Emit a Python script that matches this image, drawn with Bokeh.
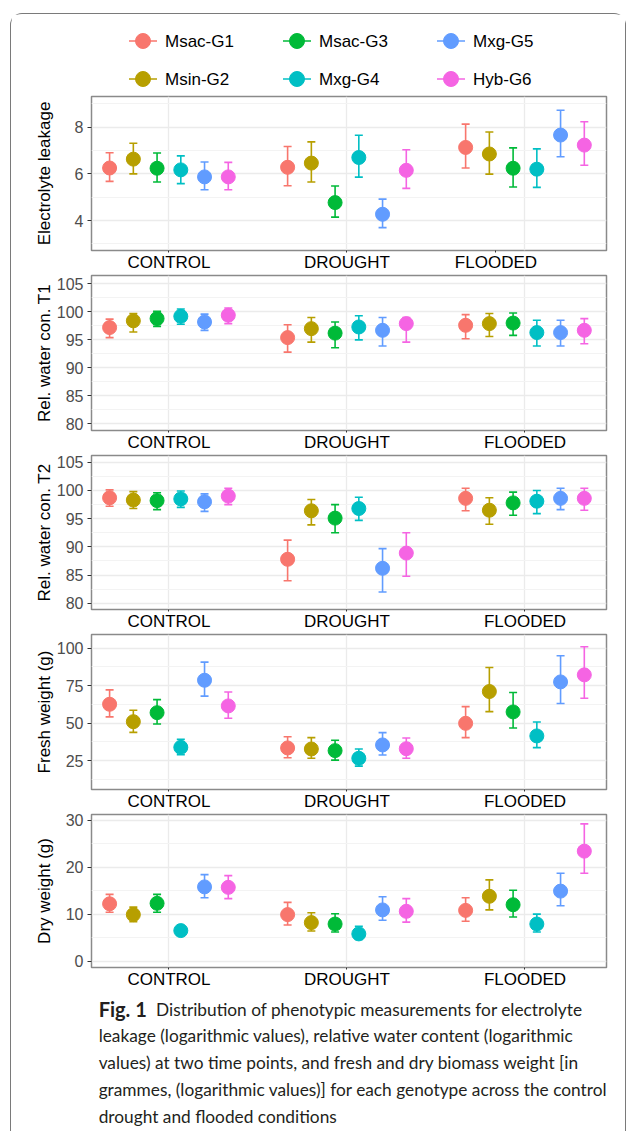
from bokeh.plotting import figure
from bokeh.models import Range1d, FixedTicker, ColumnDataSource, Column
from bokeh.embed import file_html
from bokeh.resources import INLINE
from bokeh.core.properties import value

genotypes = ["Msac-G1", "Msin-G2", "Msac-G3", "Mxg-G4", "Mxg-G5", "Hyb-G6"]
colors = ["#F8766D", "#B79F00", "#00BA38", "#00BFC4", "#619CFF", "#F564E3"]
conditions = ["CONTROL", "DROUGHT", "FLOODED"]

# values: [condition][genotype]
el_mean = [[6.25, 6.63, 6.24, 6.17, 5.87, 5.87], [6.28, 6.46, 4.77, 6.70, 4.27, 6.15], [7.13, 6.85, 6.24, 6.20, 7.66, 7.23]]
el_low = [[5.68, 6.00, 5.65, 5.58, 5.32, 5.32], [5.49, 5.65, 4.15, 5.86, 3.70, 5.38], [6.25, 5.99, 5.44, 5.42, 6.73, 6.37]]
el_high = [[6.90, 7.31, 6.89, 6.77, 6.51, 6.49], [7.17, 7.37, 5.48, 7.65, 4.92, 7.03], [8.13, 7.79, 7.11, 7.07, 8.72, 8.23]]

t1_mean = [[97.2, 98.4, 98.8, 99.2, 98.2, 99.4], [95.4, 97.0, 96.2, 97.3, 96.7, 97.9], [97.6, 97.9, 98.0, 96.3, 96.3, 96.7]]
t1_low = [[95.4, 96.4, 97.4, 97.8, 96.7, 97.9], [92.8, 94.6, 93.6, 95.0, 93.9, 94.6], [95.2, 95.6, 95.8, 93.9, 93.9, 94.3]]
t1_high = [[98.7, 99.7, 100.1, 100.5, 99.6, 100.7], [97.7, 99.0, 98.2, 99.3, 99.0, 99.0], [99.5, 99.7, 99.8, 98.5, 98.5, 98.8]]

t2_mean = [[98.7, 98.3, 98.2, 98.5, 98.0, 99.0], [87.8, 96.4, 95.1, 96.8, 86.2, 88.9], [98.6, 96.5, 97.8, 98.1, 98.6, 98.6]]
t2_low = [[97.2, 96.8, 96.6, 97.0, 96.3, 97.5], [84.0, 93.9, 92.5, 94.7, 82.0, 84.8], [96.4, 94.0, 95.6, 95.9, 96.6, 96.5]]
t2_high = [[100.1, 99.8, 99.6, 99.9, 99.4, 100.4], [91.2, 98.4, 97.5, 98.8, 89.7, 92.5], [100.4, 98.7, 99.7, 100.0, 100.4, 100.4]]

fw_mean = [[62.6, 51.0, 57.0, 33.9, 78.6, 61.5], [33.5, 32.8, 31.7, 26.6, 35.5, 33.0], [49.9, 71.1, 57.5, 41.5, 77.5, 82.2]]
fw_low = [[54.2, 43.9, 49.5, 29.0, 68.0, 53.3], [27.0, 26.6, 25.4, 21.4, 28.8, 26.6], [40.4, 57.7, 46.8, 33.7, 63.1, 66.6]]
fw_high = [[72.2, 58.6, 65.7, 39.2, 90.7, 70.8], [41.0, 40.4, 38.6, 32.8, 43.7, 40.1], [61.0, 87.1, 70.4, 50.8, 94.9, 100.9]]

dw_mean = [[12.2, 9.9, 12.3, 6.5, 15.8, 15.7], [9.9, 8.2, 7.9, 5.8, 10.9, 10.6], [10.8, 13.8, 12.0, 7.9, 14.9, 23.4]]
dw_low = [[10.4, 8.4, 10.4, 5.9, 13.5, 13.3], [7.7, 6.4, 6.2, 4.6, 8.7, 8.3], [8.5, 10.9, 9.4, 6.2, 11.8, 18.7]]
dw_high = [[14.2, 11.5, 14.2, 7.0, 18.4, 18.2], [12.5, 10.3, 10.1, 7.4, 13.7, 13.3], [13.5, 17.3, 15.1, 10.0, 18.7, 29.2]]

el_ticks = [4, 6, 8]
rwc_ticks = [80, 85, 90, 95, 100, 105]
fw_ticks = [25, 50, 75, 100]
dw_ticks = [0, 10, 20, 30]

caption_lead = "Fig. 1"
caption = [
    "Distribution of phenotypic measurements for electrolyte",
    "leakage (logarithmic values), relative water content (logarithmic",
    "values) at two time points, and fresh and dry biomass weight [in",
    "grammes, (logarithmic values)] for each genotype across the control,",
    "drought and flooded conditions",
]

FONT = "Liberation Sans"
W = 614
BL, BR = 80, 19


def panel(ylabel, mean, low, high, yr, ticks, minor, height, bottom, label_pos=(1, 2, 3)):
    p = figure(width=W, height=height, x_range=Range1d(0.565, 3.458), y_range=Range1d(*yr),
               output_backend="svg", toolbar_location=None,
               min_border_left=BL, min_border_right=BR, min_border_top=1, min_border_bottom=bottom)
    p.outline_line_color = "#8a8a8a"
    p.outline_line_width = 1.5
    xs, ys, lo, hi, cs = [], [], [], [], []
    for ci in range(len(conditions)):
        for gi in range(len(genotypes)):
            xs.append(ci + 1 + (gi - 2.5) * 0.8 / 6)
            ys.append(mean[ci][gi])
            lo.append(low[ci][gi])
            hi.append(high[ci][gi])
            cs.append(colors[gi])
    src = ColumnDataSource(dict(x=xs, y=ys, lo=lo, hi=hi, c=cs))
    p.segment(x0="x", y0="lo", x1="x", y1="hi", line_color="c", line_width=1.6, source=src)
    p.scatter(x="x", y="lo", marker="dash", size=8, line_color="c", line_width=1.6, source=src)
    p.scatter(x="x", y="hi", marker="dash", size=8, line_color="c", line_width=1.6, source=src)
    p.scatter(x="x", y="y", size=14, fill_color="c", line_color="c", source=src)

    p.xgrid.ticker = FixedTicker(ticks=[1, 2, 3])
    p.xgrid.grid_line_color = "#EBEBEB"
    p.xgrid.grid_line_width = 1.3
    p.ygrid.ticker = FixedTicker(ticks=ticks, minor_ticks=minor)
    p.ygrid.grid_line_color = "#EBEBEB"
    p.ygrid.grid_line_width = 1.3
    p.ygrid.minor_grid_line_color = "#F3F3F3"
    p.ygrid.minor_grid_line_width = 1

    xa = p.xaxis[0]
    xa.ticker = FixedTicker(ticks=list(label_pos), minor_ticks=[])
    xa.major_label_overrides = {pos: name for pos, name in zip(label_pos, conditions)}
    xa.axis_line_color = None
    xa.major_tick_line_color = "#333333"
    xa.major_tick_out = 2
    xa.major_tick_in = 0
    xa.minor_tick_line_color = None
    xa.major_label_standoff = 0
    xa.major_label_text_font = FONT
    xa.major_label_text_font_size = "17px"
    xa.major_label_text_color = "black"

    ya = p.yaxis[0]
    ya.ticker = FixedTicker(ticks=ticks, minor_ticks=[])
    ya.axis_line_color = None
    ya.major_tick_line_color = "#333333"
    ya.major_tick_out = 4
    ya.major_tick_in = 0
    ya.minor_tick_line_color = None
    ya.major_label_standoff = 4
    ya.major_label_text_font = FONT
    ya.major_label_text_font_size = "16px"
    ya.major_label_text_color = "#4D4D4D"
    ya.axis_label = ylabel
    ya.axis_label_text_font = FONT
    ya.axis_label_text_font_size = "17px"
    ya.axis_label_text_font_style = "normal"
    ya.axis_label_text_color = "black"
    nchar = max(len(str(t)) for t in ticks)
    ya.axis_label_standoff = max(0, int(round(26.5 - 8.9 * nchar)))
    return p


# legend block (keys laid out two rows, filled column by column);
# its frame shares the panels' borders, and its x range is in canvas pixels
LEG_H = 81
lf = figure(width=W, height=LEG_H, x_range=Range1d(BL, W - BR), y_range=Range1d(LEG_H, 0),
            output_backend="svg", toolbar_location=None,
            min_border_left=BL, min_border_right=BR, min_border_top=0, min_border_bottom=0,
            x_axis_type=None, y_axis_type=None)
lf.outline_line_color = None
lf.grid.visible = False
kx = [131.5 + 154 * (i // 2) for i in range(len(genotypes))]
ky = [26.5 + 38 * (i % 2) for i in range(len(genotypes))]
lsrc = ColumnDataSource(dict(x=kx, y=ky, x0=[v - 14 for v in kx], x1=[v + 14 for v in kx],
                             tx=[v + 22 for v in kx], c=colors, g=genotypes))
lf.segment(x0="x0", y0="y", x1="x1", y1="y", line_color="c", line_width=1.6, source=lsrc)
lf.scatter(x="x", y="y", size=15, fill_color="c", line_color="c", source=lsrc)
lf.text(x="tx", y="y", text="g", text_font=value(FONT), text_font_size="17px",
        text_baseline="middle", text_color="black", source=lsrc)

p1 = panel("Electrolyte leakage", el_mean, el_low, el_high, (2.72, 9.31), el_ticks, [3, 5, 7, 9], 179, 22,
           label_pos=(1, 2, 2.837))
p2 = panel("Rel. water con. T1", t1_mean, t1_low, t1_high, (78.8, 106.5), rwc_ticks,
           [82.5, 87.5, 92.5, 97.5, 102.5], 180, 23)
p3 = panel("Rel. water con. T2", t2_mean, t2_low, t2_high, (78.9, 106.2), rwc_ticks,
           [82.5, 87.5, 92.5, 97.5, 102.5], 179, 23)
p4 = panel("Fresh weight (g)", fw_mean, fw_low, fw_high, (5.8, 109.1), fw_ticks,
           [12.5, 37.5, 62.5, 87.5], 180, 24)
p5 = panel("Dry weight (g)", dw_mean, dw_low, dw_high, (-1.35, 31.2), dw_ticks, [5, 15, 25], 178, 24)

# caption block
CAP_H = 140
cf = figure(width=W, height=CAP_H, x_range=Range1d(0, W), y_range=Range1d(CAP_H, 0),
            output_backend="svg", toolbar_location=None, min_border=0,
            x_axis_type=None, y_axis_type=None)
cf.outline_line_color = None
cf.grid.visible = False
cf.text(x=[8.5], y=[17.5], text=[caption_lead], text_font=value("Lato"), text_font_size="20px",
        text_font_style="bold", text_baseline="middle", text_color="#231f20")
cx = [77] + [8.5] * (len(caption) - 1)
cy = [17.5 + 26.75 * i for i in range(len(caption))]
cf.text(x=cx, y=cy, text=caption, text_font=value("Lato"), text_font_size="17.3px",
        text_baseline="middle", text_color="#231f20")

layout = Column(children=[lf, p1, p2, p3, p4, p5, cf], spacing=0, margin=(13, 0, 0, 10),
                styles={"border": "1.5px solid #7a7a7a", "border-bottom": "none",
                        "border-radius": "12px 12px 0 0"})

open("out.html", "w").write(file_html(layout, INLINE))
